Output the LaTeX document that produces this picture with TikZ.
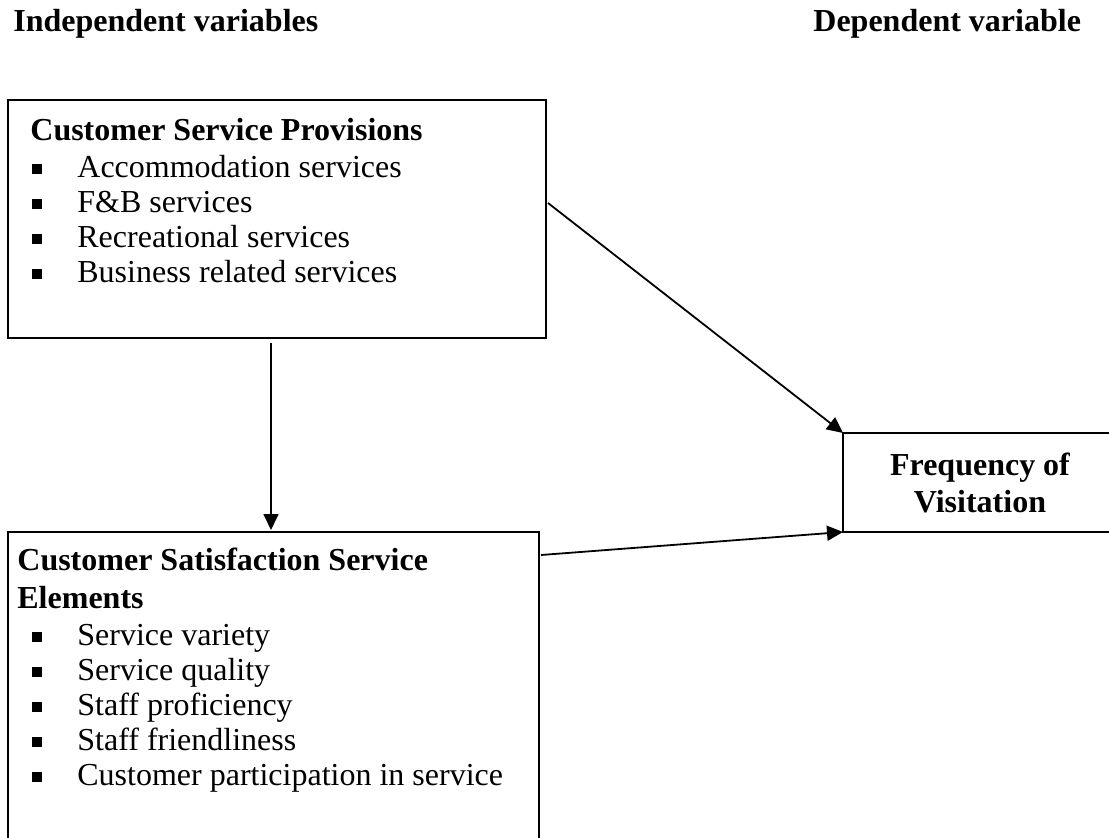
\documentclass[tikz,border=0pt]{standalone}
\usepackage{fontspec}
\setmainfont{Liberation Serif}
\usetikzlibrary{calc,arrows.meta,positioning}
\newcommand{\bul}{\rule[1.8pt]{4.8pt}{4.8pt}\hspace{17.7pt}}
\tikzset{
  framebox/.style={draw=black, rectangle, line width=1pt, inner sep=0pt, outer sep=0pt},
  listtext/.style={align=left, inner sep=0pt, font=\fontsize{16}{17.5}\selectfont},
  headtext/.style={inner sep=0pt, anchor=base west, font=\fontsize{16}{17.5}\selectfont\bfseries},
  arrow/.style={-{Triangle[length=8pt,width=7.5pt]}, line width=0.9pt}
}

\begin{document}
\begin{tikzpicture}[x=1pt, y=1pt]
  \useasboundingbox (0,0) rectangle (554.5,418.5);
  \clip (0,0) rectangle (554.5,418.5);
  \fill [white] (0,0) rectangle (554.5,418.5);

  \node [headtext] (indep) at (6.5,402.5) {Independent variables};
  \node [headtext] (dep) at (406.5,402.5) {Dependent variable};

  \node [framebox, anchor=north west, minimum width=269pt, minimum height=119pt] (provisions) at (4,368.5) {};
  \node [listtext, below right=8pt and 11pt of provisions.north west] (provtext) {\rule{0pt}{12pt}\textbf{Customer Service Provisions}\\[1pt]
    \hspace*{1pt}\bul Accommodation services\\
    \hspace*{1pt}\bul F\&B services\\
    \hspace*{1pt}\bul Recreational services\\
    \hspace*{1pt}\bul Business related services};

  \node [framebox, anchor=north west, minimum width=265.5pt, minimum height=175pt] (elements) at (4,152.5) {};
  \node [listtext, below right=7pt and 4.5pt of elements.north west] (elemtext) {\rule{0pt}{12pt}\textbf{Customer Satisfaction Service}\\[1.5pt]
    \textbf{Elements}\\[1pt]
    \hspace*{7.5pt}\bul Service variety\\
    \hspace*{7.5pt}\bul Service quality\\
    \hspace*{7.5pt}\bul Staff proficiency\\
    \hspace*{7.5pt}\bul Staff friendliness\\
    \hspace*{7.5pt}\bul Customer participation in service};

  \node [framebox, anchor=north west, minimum width=137pt, minimum height=49.5pt, align=center, font=\fontsize{16}{18.5}\selectfont\bfseries] (visit) at (421.5,202) {Frequency of\\Visitation};

  \draw [arrow, shorten <=2.5pt, shorten >=1pt] ([xshift=-3pt]provisions.south) -- ([xshift=-3pt]provisions.south |- elements.north);
  \draw [arrow] ([shift={(1pt,8pt)}]provisions.east) -- (visit.north west);
  \draw [arrow] ([shift={(1pt,-11.5pt)}]elements.north east) -- (visit.south west);
\end{tikzpicture}
\end{document}
